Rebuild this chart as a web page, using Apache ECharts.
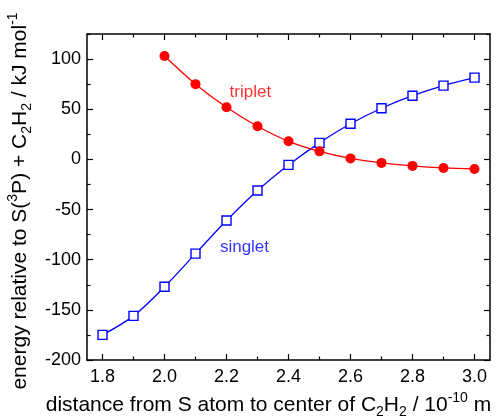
<!DOCTYPE html>
<html>
<head>
<meta charset="utf-8">
<script src="https://cdn.jsdelivr.net/npm/echarts@6/dist/echarts.min.js"></script>
<style>html,body{margin:0;padding:0;background:#fff;}#c{width:502px;height:419px;}</style>
</head>
<body>
<div id="c"></div>
<script>
var distance = [1.8, 1.9, 2.0, 2.1, 2.2, 2.3, 2.4, 2.5, 2.6, 2.7, 2.8, 2.9, 3.0];
var tripletX = [2.0, 2.1, 2.2, 2.3, 2.4, 2.5, 2.6, 2.7, 2.8, 2.9, 3.0];
var tripletY = [103, 75, 52, 33, 18, 8, 1, -3.5, -6.5, -8.5, -9.5];
var singletY = [-175, -156, -127, -94, -61, -31, -5.5, 16.5, 35.5, 51, 63.5, 73.5, 81.5];
var xMajorTicks = [1.8, 2.0, 2.2, 2.4, 2.6, 2.8, 3.0];
var xMinorTicks = [1.9, 2.1, 2.3, 2.5, 2.7, 2.9];
var yMajorTicks = [-200, -150, -100, -50, 0, 50, 100];
var yMinorTicks = [-175, -125, -75, -25, 25, 75, 125];
var annotations = [
  {name: 'triplet', x: 2.277, y: 67, color: '#ff0000'},
  {name: 'singlet', x: 2.258, y: -88, color: '#0000ff'}
];

var font = 'Liberation Sans, Arial, sans-serif';
var chart = echarts.init(document.getElementById('c'));

function pairs(xs, ys) { return xs.map(function (x, i) { return [x, ys[i]]; }); }

var lineStyleAxis = {color: '#000', width: 1.5};
function xAx(pos, ticks, len, showLine, showLabel) {
  return {
    type: 'value', position: pos, min: 1.75, max: 3.05,
    axisLine: {show: showLine, onZero: false, lineStyle: lineStyleAxis},
    axisTick: {show: true, inside: true, length: len, customValues: ticks, lineStyle: {color: '#000', width: 1.2}},
    axisLabel: {show: showLabel, customValues: xMajorTicks, color: '#000', fontFamily: font, fontSize: 18, margin: 8,
      formatter: function (v) { return v.toFixed(1); }},
    splitLine: {show: false}
  };
}
function yAx(pos, ticks, len, showLine, showLabel) {
  return {
    type: 'value', position: pos, min: -200, max: 125,
    axisLine: {show: showLine, onZero: false, lineStyle: lineStyleAxis},
    axisTick: {show: true, inside: true, length: len, customValues: ticks, lineStyle: {color: '#000', width: 1.2}},
    axisLabel: {show: showLabel, customValues: yMajorTicks, color: '#000', fontFamily: font, fontSize: 18, margin: 6},
    splitLine: {show: false}
  };
}

var richStyles = {
  sub: {fontFamily: font, fontSize: 14, verticalAlign: 'bottom', lineHeight: 14, color: '#000'},
  sup: {fontFamily: font, fontSize: 14, verticalAlign: 'top', lineHeight: 14, color: '#000'}
};

var xAxes = [xAx('bottom', xMajorTicks, 6, true, true), xAx('top', xMajorTicks, 6, true, false),
             xAx('bottom', xMinorTicks, 3.5, false, false), xAx('top', xMinorTicks, 3.5, false, false)];
xAxes[0].name = 'distance from S atom to center of C{sub|2}H{sub|2} / 10{sup|-10} m';
xAxes[0].nameLocation = 'middle';
xAxes[0].nameGap = 30;
xAxes[0].nameTextStyle = {
  color: '#000', fontFamily: font, fontSize: 21, lineHeight: 28, padding: [0, 40, 0, 0],
  rich: richStyles
};
var yAxes = [yAx('left', yMajorTicks, 6, true, true), yAx('right', yMajorTicks, 6, true, false),
             yAx('left', yMinorTicks, 3.5, false, false), yAx('right', yMinorTicks, 3.5, false, false)];
yAxes[0].name = 'energy relative to S({sup|3}P) + C{sub|2}H{sub|2} / kJ mol{sup|-1}';
yAxes[0].nameLocation = 'middle';
yAxes[0].nameGap = 48;
yAxes[0].nameTextStyle = {
  color: '#000', fontFamily: font, fontSize: 21, lineHeight: 28, padding: [0, 8, 0, 0],
  rich: richStyles
};

chart.setOption({
  animation: false,
  backgroundColor: '#fff',
  grid: {left: 87, right: 12, top: 34, bottom: 59, containLabel: false, outerBoundsMode: 'none'},
  xAxis: xAxes,
  yAxis: yAxes,
  series: [
    {
      name: 'singlet', type: 'line', smooth: 0.35, data: pairs(distance, singletY),
      symbol: 'rect', symbolSize: 9,
      lineStyle: {color: '#0000ff', width: 1.3},
      itemStyle: {color: '#fff', borderColor: '#0000ff', borderWidth: 1.4},
      z: 3
    },
    {
      name: 'triplet', type: 'line', smooth: 0.35, data: pairs(tripletX, tripletY),
      symbol: 'circle', symbolSize: 10,
      lineStyle: {color: '#ff0000', width: 1.3},
      itemStyle: {color: '#ff0000', borderColor: '#ff0000', borderWidth: 0},
      z: 4
    },
    {
      type: 'scatter', symbolSize: 0, silent: true,
      data: annotations.map(function (a) {
        return {value: [a.x, a.y], label: {show: true, formatter: a.name, color: a.color, fontFamily: font, fontSize: 17, position: 'inside'}};
      })
    }
  ]
});
</script>
</body>
</html>
